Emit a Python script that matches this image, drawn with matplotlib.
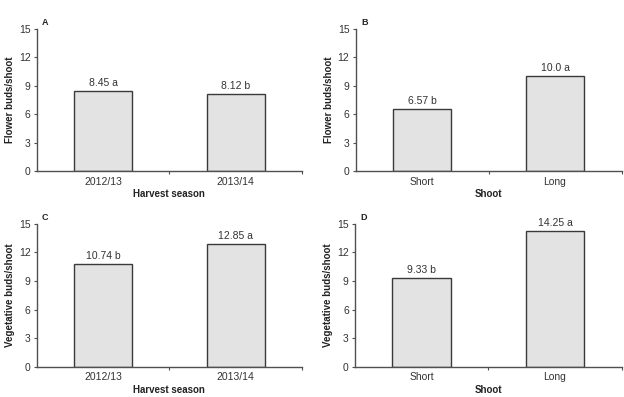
import numpy as np
import matplotlib
matplotlib.use("Agg")
import matplotlib.pyplot as plt

plt.rcParams['font.family'] = ['Liberation Sans Narrow', 'Liberation Sans', 'DejaVu Sans']

# Data
seasons = ['2012/13', '2013/14']
shoots = ['Short', 'Long']
flower_season = [8.45, 8.12]
flower_season_lab = ['8.45 a', '8.12 b']
flower_shoot = [6.57, 10.0]
flower_shoot_lab = ['6.57 b', '10.0 a']
veg_season = [10.74, 12.85]
veg_season_lab = ['10.74 b', '12.85 a']
veg_shoot = [9.33, 14.25]
veg_shoot_lab = ['9.33 b', '14.25 a']
yticks = [0, 3, 6, 9, 12, 15]

panels = [
    ('A', seasons, flower_season, flower_season_lab, 'Flower buds/shoot', 'Harvest season'),
    ('B', shoots, flower_shoot, flower_shoot_lab, 'Flower buds/shoot', 'Shoot'),
    ('C', seasons, veg_season, veg_season_lab, 'Vegetative buds/shoot', 'Harvest season'),
    ('D', shoots, veg_shoot, veg_shoot_lab, 'Vegetative buds/shoot', 'Shoot'),
]
rects = [
    [0.059, 0.569, 0.425, 0.358],
    [0.570, 0.569, 0.426, 0.358],
    [0.059, 0.076, 0.425, 0.360],
    [0.569, 0.076, 0.427, 0.360],
]

fig = plt.figure(figsize=(6.24, 3.97), dpi=100)
axc = '#505050'
txt = '#333333'

for (letter, cats, vals, labs, ylab, xlab), r in zip(panels, rects):
    ax = fig.add_axes(r)
    x = np.arange(len(cats))
    bars = ax.bar(x, vals, width=0.44, color='#e3e3e3', edgecolor='#3a3a3a', linewidth=1.0)
    for b, lab in zip(bars, labs):
        ax.text(b.get_x() + b.get_width() / 2, b.get_height() + 0.35, lab,
                ha='center', va='bottom', fontsize=7.5, color=txt)
    ax.set_xlim(-0.5, 1.5)
    ax.set_ylim(0, 15)
    ax.set_yticks(yticks)
    ax.set_xticks(x)
    ax.set_xticklabels(cats)
    ax.set_xticks([0.5, 1.5], minor=True)
    ax.tick_params(axis='x', which='major', length=0, labelsize=7.5, labelcolor=txt, pad=4)
    ax.tick_params(axis='x', which='minor', length=2, color=axc, width=0.8)
    ax.tick_params(axis='y', length=2.5, width=0.8, color=axc, labelsize=7.5, labelcolor=txt, pad=2)
    for s in ['top', 'right']:
        ax.spines[s].set_visible(False)
    for s in ['left', 'bottom']:
        ax.spines[s].set_color(axc)
        ax.spines[s].set_linewidth(1.0)
    ax.set_ylabel(ylab, fontsize=7, fontweight='bold', color='#222222', labelpad=3)
    ax.set_xlabel(xlab, fontsize=7, fontweight='bold', color='#222222', labelpad=2)
    ax.text(0.02, 1.015, letter, transform=ax.transAxes, fontsize=6.5,
            fontweight='bold', color='#222222', ha='left', va='bottom')

fig.savefig('out.png', dpi=100)
